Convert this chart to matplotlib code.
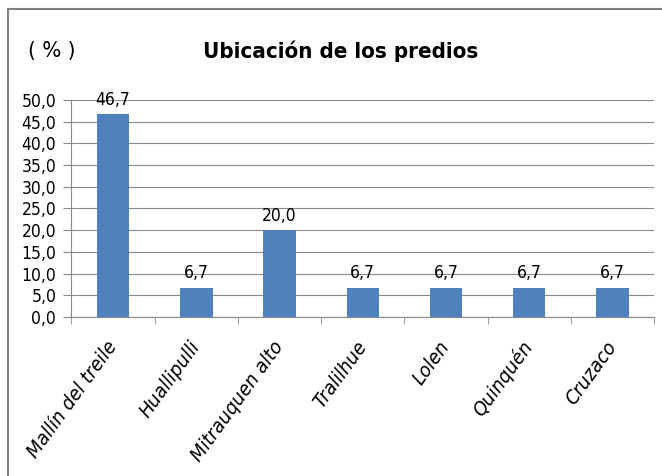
import matplotlib.pyplot as plt
from matplotlib.patches import Rectangle
import numpy as np

predios = ['Mallín del treile', 'Huallipulli', 'Mitrauquen alto', 'Tralilhue',
           'Lolen', 'Quinquén', 'Cruzaco']
porcentaje = [46.7, 6.7, 20.0, 6.7, 6.7, 6.7, 6.7]

plt.rcParams['font.family'] = 'DejaVu Sans'
plt.rcParams['font.stretch'] = 'condensed'

fig = plt.figure(figsize=(6.62, 4.76), dpi=100)
ax = fig.add_axes([0.108, 0.334, 0.880, 0.456])

# marco exterior del grafico
fig.patches.append(Rectangle((8 / 662, -0.1), 1.0, 1.1 - 9 / 476, transform=fig.transFigure,
                             fill=False, edgecolor='#808080', linewidth=1.5))

x = np.arange(len(predios))
ax.bar(x, porcentaje, width=0.39, color='#4F81BD', zorder=3)
for xi, v in zip(x, porcentaje):
    ax.text(xi, v + 1.3, f'{v:.1f}'.replace('.', ','), ha='center', va='bottom',
            fontsize=12.5, stretch='condensed')

ax.set_xlim(-0.5, len(predios) - 0.5)
ax.set_ylim(0, 50)
ticks = np.arange(0, 50.1, 5)
ax.set_yticks(ticks)
ax.set_yticklabels([f'{t:.1f}'.replace('.', ',') for t in ticks], fontsize=12.5,
                   stretch='condensed')
ax.yaxis.grid(True, color='#888888', linewidth=0.8, zorder=0)

ax.set_xticks(x)
ax.set_xticklabels(predios, rotation=54, ha='right', va='center', rotation_mode='anchor',
                   fontsize=14.5, style='italic', stretch='condensed')
ax.set_xticks(np.arange(-0.5, len(predios), 1), minor=True)
ax.tick_params(axis='x', which='major', length=0, pad=19)
ax.tick_params(axis='x', which='minor', length=5, color='#888888')
ax.tick_params(axis='y', length=6, color='#888888', pad=5)

for s in ['top', 'right']:
    ax.spines[s].set_visible(False)
ax.spines['left'].set_color('#888888')
ax.spines['bottom'].set_color('#888888')

fig.text(341 / 662, 1 - 51 / 476, 'Ubicación de los predios', ha='center', va='center',
         fontsize=16, fontweight='bold', stretch='condensed')
fig.text(52 / 662, 1 - 51 / 476, '( % )', ha='center', va='center', fontsize=16,
         stretch='condensed')

fig.savefig('out.png', dpi=100)
